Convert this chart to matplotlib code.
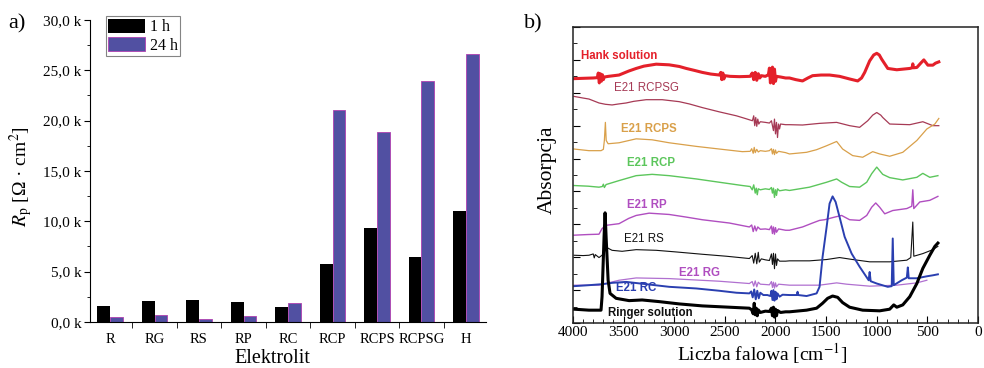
import numpy as np
import matplotlib
matplotlib.use('Agg')
import matplotlib.pyplot as plt
from matplotlib.patches import Patch
from matplotlib.ticker import MultipleLocator, FuncFormatter

plt.rcParams['font.family'] = ['Liberation Serif', 'DejaVu Serif']
plt.rcParams['mathtext.fontset'] = 'stix'

# ---- panel a: polarisation resistance
electrolytes = ['R', 'RG', 'RS', 'RP', 'RC', 'RCP', 'RCPS', 'RCPSG', 'H']
rp_1h = [1550, 2050, 2150, 2000, 1500, 5800, 9300, 6500, 11000]
rp_24h = [530, 700, 300, 630, 1900, 21100, 18900, 23900, 26600]

# ---- panel b: FTIR spectra (wavenumber, shifted absorbance)
hank_wn = [3990, 3900, 3800, 3760, 3750, 3740, 3730, 3720, 3710, 3700, 3690, 3650, 3545, 3450,
           3376, 3300, 3178, 3050, 2950, 2881, 2800, 2723, 2640, 2555, 2540, 2530, 2520, 2510,
           2500, 2450, 2357, 2250, 2230, 2215, 2200, 2185, 2170, 2155, 2140, 2100, 2070, 2060,
           2050, 2040, 2030, 2020, 2010, 2000, 1990, 1950, 1900, 1862, 1800, 1733, 1680, 1634,
           1550, 1466, 1367, 1268, 1188, 1150, 1119, 1070, 1030, 1000, 975, 951, 891, 802, 674,
           650, 644, 638, 604, 560, 535, 515, 495, 446, 420, 387]
hank_abs = [7.43, 7.44, 7.45, 7.46, 7.60, 7.30, 7.58, 7.35, 7.55, 7.40, 7.48, 7.50, 7.54, 7.66,
            7.74, 7.81, 7.87, 7.85, 7.80, 7.74, 7.68, 7.62, 7.57, 7.54, 7.62, 7.40, 7.60, 7.42,
            7.52, 7.50, 7.49, 7.50, 7.60, 7.40, 7.62, 7.38, 7.58, 7.45, 7.52, 7.50, 7.55, 7.75,
            7.30, 7.70, 7.78, 7.28, 7.72, 7.35, 7.50, 7.48, 7.45, 7.45, 7.40, 7.36, 7.45, 7.52,
            7.54, 7.54, 7.50, 7.42, 7.36, 7.45, 7.62, 7.97, 8.15, 8.20, 8.15, 8.02, 7.74, 7.70, 7.74,
            7.76, 7.88, 7.76, 7.77, 7.92, 8.00, 7.92, 7.84, 7.84, 7.90, 7.94]

rcpsg_wn = [3990, 3900, 3842, 3743, 3680, 3614, 3550, 3475, 3400, 3277, 3119, 2951, 2850, 2723,
            2555, 2386, 2300, 2228, 2215, 2205, 2195, 2185, 2175, 2165, 2150, 2100, 2060, 2040,
            2020, 2010, 2000, 1990, 1980, 1970, 1960, 1950, 1900, 1862, 1733, 1565, 1396, 1268,
            1169, 1089, 1040, 1000, 960, 941, 872, 674, 545, 446, 387]
rcpsg_abs = [6.89, 6.84, 6.81, 6.69, 6.65, 6.63, 6.66, 6.69, 6.74, 6.79, 6.79, 6.73, 6.66, 6.55,
             6.42, 6.30, 6.22, 6.15, 6.30, 6.00, 6.25, 5.98, 6.20, 6.05, 6.12, 6.10, 6.08, 6.15,
             5.85, 6.20, 5.75, 6.10, 5.64, 6.05, 5.90, 6.05, 6.03, 6.03, 6.02, 6.07, 6.10, 6.00,
             5.95, 6.15, 6.32, 6.40, 6.32, 6.25, 6.05, 6.03, 6.12, 6.00, 6.00]

rcps_wn = [3990, 3842, 3723, 3700, 3690, 3680, 3672, 3653, 3545, 3376, 3218, 3050, 2782, 2555,
           2327, 2250, 2235, 2220, 2210, 2200, 2185, 2170, 2150, 2100, 2060, 2040, 2030, 2020,
           2010, 2000, 1990, 1970, 1900, 1862, 1693, 1594, 1495, 1396, 1337, 1238, 1139, 1040,
           971, 872, 743, 604, 505, 426, 387]
rcps_abs = [5.29, 5.24, 5.24, 5.28, 5.55, 6.10, 5.55, 5.45, 5.48, 5.60, 5.57, 5.48, 5.37, 5.29,
            5.21, 5.22, 5.30, 5.16, 5.34, 5.18, 5.28, 5.20, 5.24, 5.22, 5.24, 5.30, 5.14, 5.28,
            5.12, 5.26, 5.16, 5.22, 5.18, 5.14, 5.19, 5.27, 5.39, 5.52, 5.29, 5.09, 5.04, 5.21,
            5.14, 5.07, 5.19, 5.55, 5.90, 6.05, 6.22]

rcp_wn = [3990, 3850, 3743, 3710, 3700, 3690, 3673, 3545, 3376, 3218, 3050, 2782, 2555, 2327,
          2250, 2230, 2215, 2200, 2190, 2180, 2170, 2150, 2100, 2060, 2040, 2030, 2020, 2010,
          2000, 1990, 1980, 1960, 1900, 1862, 1664, 1495, 1396, 1347, 1268, 1169, 1099, 1050,
          1000, 941, 872, 743, 604, 545, 476, 396]
rcp_abs = [4.18, 4.16, 4.13, 4.15, 4.22, 4.12, 4.21, 4.33, 4.48, 4.52, 4.48, 4.38, 4.28, 4.18,
           4.15, 4.05, 4.20, 3.95, 4.10, 3.90, 4.08, 4.05, 4.08, 4.06, 4.12, 3.95, 4.10, 3.82,
           4.05, 3.88, 4.08, 4.02, 4.05, 4.03, 4.13, 4.28, 4.38, 4.28, 4.15, 4.13, 4.28, 4.54,
           4.74, 4.52, 4.42, 4.35, 4.43, 4.55, 4.43, 4.48]

rp_wn = [3990, 3850, 3743, 3713, 3673, 3545, 3450, 3376, 3248, 3050, 2881, 2723, 2456, 2258,
         2235, 2220, 2205, 2190, 2175, 2150, 2100, 2060, 2040, 2030, 2020, 2010, 2000, 1990,
         1970, 1900, 1862, 1733, 1634, 1565, 1515, 1416, 1347, 1268, 1169, 1099, 1050, 1010,
         971, 921, 842, 703, 654, 644, 634, 575, 476, 396]
rp_abs = [2.67, 2.69, 2.70, 2.87, 2.97, 3.02, 3.18, 3.27, 3.34, 3.30, 3.22, 3.14, 3.04, 2.92,
          2.98, 2.78, 2.95, 2.80, 2.92, 2.85, 2.86, 2.84, 2.95, 2.72, 2.92, 2.70, 2.90, 2.76,
          2.86, 2.82, 2.82, 2.92, 3.04, 3.12, 3.14, 3.22, 3.27, 3.14, 3.12, 3.27, 3.52, 3.65,
          3.52, 3.32, 3.42, 3.48, 3.55, 4.05, 3.48, 3.68, 3.73, 3.85]

rs_wn = [3990, 3900, 3842, 3800, 3790, 3780, 3743, 3713, 3663, 3614, 3515, 3376, 3178, 2980,
         2723, 2485, 2258, 2230, 2215, 2200, 2185, 2170, 2160, 2140, 2100, 2060, 2040, 2030,
         2020, 2010, 2000, 1990, 1980, 1960, 1900, 1862, 1664, 1495, 1367, 1238, 1070, 872,
         703, 664, 644, 634, 545, 446, 396]
rs_abs = [2.06, 2.05, 2.06, 2.10, 1.98, 2.08, 1.99, 2.06, 2.29, 2.21, 2.18, 2.23, 2.21, 2.16,
          2.09, 2.03, 1.96, 2.05, 1.82, 2.12, 1.80, 2.15, 1.85, 1.95, 1.92, 1.90, 2.10, 1.78,
          2.12, 1.65, 2.10, 1.75, 1.95, 1.88, 1.88, 1.89, 1.89, 1.93, 1.99, 1.93, 1.86, 1.86,
          1.91, 1.99, 3.07, 2.03, 2.11, 2.23, 2.33]

rg_wn = [3990, 3743, 3545, 3376, 3050, 2555, 2258, 2230, 2215, 2200, 2185, 2170, 2150, 2100,
         2060, 2040, 2030, 2020, 2010, 2000, 1990, 1970, 1862, 1565, 1396, 1297, 1070, 802,
         604, 505]
rg_abs = [1.15, 1.15, 1.30, 1.37, 1.35, 1.27, 1.20, 1.26, 1.12, 1.28, 1.10, 1.24, 1.18, 1.17,
          1.16, 1.26, 1.08, 1.24, 1.06, 1.22, 1.10, 1.18, 1.15, 1.15, 1.22, 1.18, 1.12, 1.15,
          1.22, 1.30]

rc_wn = [3990, 3842, 3713, 3614, 3475, 3277, 3050, 2782, 2555, 2386, 2258, 2240, 2225, 2210,
         2195, 2180, 2165, 2150, 2120, 2080, 2050, 2040, 2030, 2020, 2010, 2000, 1990, 1980,
         1960, 1930, 1862, 1790, 1782, 1775, 1693, 1594, 1565, 1535, 1495, 1466, 1436, 1406,
         1367, 1317, 1248, 1169, 1119, 1080, 1070, 1060, 1000, 891, 852, 842, 832, 753, 703,
         693, 684, 604, 505, 446, 396]
rc_abs = [1.12, 1.15, 1.18, 1.22, 1.25, 1.18, 1.10, 1.05, 0.98, 0.92, 0.90, 0.96, 0.78, 1.02,
          0.72, 0.98, 0.75, 0.92, 0.85, 0.85, 0.82, 0.98, 0.70, 1.00, 0.68, 0.95, 0.72, 0.90,
          0.80, 0.86, 0.85, 0.85, 0.95, 0.85, 0.82, 0.90, 1.10, 2.01, 2.92, 3.63, 3.85, 3.68,
          3.22, 2.62, 2.11, 1.71, 1.48, 1.30, 1.55, 1.27, 1.20, 1.10, 1.12, 2.57, 1.15, 1.30, 1.38,
          1.69, 1.36, 1.36, 1.42, 1.45, 1.48]

ringer_wn = [3990, 3842, 3723, 3713, 3693, 3683, 3673, 3653, 3634, 3574, 3446, 3317, 3149, 2951,
             2723, 2456, 2258, 2235, 2220, 2210, 2200, 2190, 2180, 2170, 2150, 2100, 2060, 2040,
             2030, 2020, 2010, 2000, 1990, 1980, 1950, 1900, 1862, 1693, 1594, 1535, 1485, 1436,
             1386, 1337, 1268, 1139, 971, 872, 832, 802, 743, 674, 604, 545, 476, 426, 396]
ringer_abs = [0.42, 0.39, 0.39, 0.80, 2.62, 3.35, 2.62, 1.30, 0.90, 0.75, 0.68, 0.70, 0.65, 0.58,
              0.52, 0.48, 0.45, 0.40, 0.28, 0.60, 0.25, 0.45, 0.22, 0.40, 0.32, 0.36, 0.35, 0.45,
              0.22, 0.48, 0.18, 0.42, 0.22, 0.38, 0.32, 0.34, 0.34, 0.39, 0.45, 0.60, 0.75, 0.82,
              0.78, 0.62, 0.48, 0.39, 0.37, 0.42, 0.55, 0.48, 0.55, 0.80, 1.20, 1.66, 2.06, 2.33, 2.43]

fig = plt.figure(figsize=(9.84, 3.68), dpi=100)

# ---------------- a)
ax1 = fig.add_axes([0.0915, 0.125, 0.4024, 0.8207])
pos = np.arange(len(electrolytes))
w = 0.29
ax1.bar(pos - w / 2, rp_1h, w, color='black')
ax1.bar(pos + w / 2, rp_24h, w, color='#5150a2', edgecolor='#b040b0', linewidth=0.6)
ax1.set_xlim(-0.45, 8.45)
ax1.set_ylim(0, 30000)
ax1.spines['top'].set_visible(False)
ax1.spines['right'].set_visible(False)
ax1.set_xticks(pos)
ax1.set_xticklabels(electrolytes, fontsize=10.5)
ax1.set_xticks(np.arange(0.5, 8, 1), minor=True)
ax1.tick_params(axis='x', which='major', length=0, pad=8)
ax1.tick_params(axis='x', which='minor', length=4, direction='out')
ax1.yaxis.set_major_locator(MultipleLocator(5000))
ax1.yaxis.set_minor_locator(MultipleLocator(2500))
ax1.yaxis.set_major_formatter(FuncFormatter(lambda v, p: ('%.1f k' % (v / 1000)).replace('.', ',')))
ax1.tick_params(axis='y', which='major', length=4, labelsize=11, pad=2)
ax1.tick_params(axis='y', which='minor', length=2.5)
ax1.set_xlabel('Elektrolit', fontsize=14.5)
ax1.xaxis.set_label_coords(0.46, -0.09)
ax1.set_ylabel(r'$R_\mathrm{p}$ [Ω · cm$^2$]', fontsize=14)
ax1.yaxis.set_label_coords(-0.14, 0.48)
handles = [Patch(facecolor='black'), Patch(facecolor='#5150a2', edgecolor='#b040b0', linewidth=0.6)]
leg = ax1.legend(handles, ['1 h', '24 h'], loc='upper left', bbox_to_anchor=(0.04, 1.012),
                 borderaxespad=0, fancybox=False, edgecolor='#666666', fontsize=11.5,
                 handlelength=2.3, handleheight=1.0, borderpad=0.15, labelspacing=0.1,
                 handletextpad=0.3)
leg.get_frame().set_linewidth(0.8)
fig.text(0.008, 1 - 28 / 368, 'a)', fontsize=16)

# ---------------- b)
ax2 = fig.add_axes([0.5823, 0.1223, 0.4116, 0.8043])
spectra = [
    (hank_wn, hank_abs, '#e4202a', 2.2),
    (rcpsg_wn, rcpsg_abs, '#a63a55', 0.9),
    (rcps_wn, rcps_abs, '#d9a04a', 0.9),
    (rcp_wn, rcp_abs, '#5cc65c', 1.0),
    (rp_wn, rp_abs, '#b04ec0', 1.0),
    (rs_wn, rs_abs, '#111111', 0.8),
    (rg_wn, rg_abs, '#b070d0', 0.9),
    (rc_wn, rc_abs, '#2a3fb0', 1.4),
    (ringer_wn, ringer_abs, '#000000', 2.2),
]
for wn, ab, col, lw in spectra:
    ax2.plot(wn, ab, color=col, lw=lw, solid_joinstyle='round')

labels = [
    ('Hank solution', 3921, 8.12, '#e4202a', 'bold'),
    ('E21 RCPSG', 3594, 7.15, '#a63a55', 'normal'),
    ('E21 RCPS', 3525, 5.91, '#d9a04a', 'bold'),
    ('E21 RCP', 3465, 4.85, '#5cc65c', 'bold'),
    ('E21 RP', 3465, 3.58, '#b04ec0', 'bold'),
    ('E21 RS', 3495, 2.54, '#111111', 'normal'),
    ('E21 RG', 2951, 1.51, '#b04ec0', 'bold'),
    ('E21 RC', 3574, 1.05, '#2a3fb0', 'bold'),
    ('Ringer solution', 3653, 0.31, '#111111', 'bold'),
]
for txt, x, y, col, fw in labels:
    ax2.text(x, y, txt, color=col, fontsize=8.3, fontweight=fw, family='Liberation Sans',
             ha='left', va='center')

ax2.set_xlim(4000, 0)
ax2.set_ylim(0, 9)
ax2.xaxis.set_major_locator(MultipleLocator(500))
ax2.xaxis.set_minor_locator(MultipleLocator(100))
ax2.yaxis.set_major_locator(MultipleLocator(1))
ax2.yaxis.set_minor_locator(MultipleLocator(0.5))
ax2.tick_params(which='both', direction='in')
ax2.tick_params(which='major', length=5, labelsize=11, pad=2)
ax2.tick_params(which='minor', length=3)
ax2.tick_params(axis='y', labelleft=False)
for s in ax2.spines.values():
    s.set_linewidth(1.1)
    s.set_color('#222222')
ax2.set_xlabel('Liczba falowa [cm$^{-1}$]', fontsize=14)
ax2.xaxis.set_label_coords(0.467, -0.062)
ax2.set_ylabel('Absorpcja', fontsize=15.5)
ax2.yaxis.set_label_coords(-0.04, 0.517)
fig.text(0.533, 1 - 28 / 368, 'b)', fontsize=16)

fig.savefig('out.png', dpi=100)
